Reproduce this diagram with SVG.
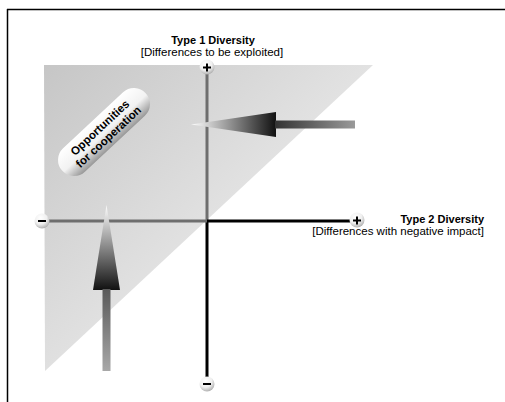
<svg xmlns="http://www.w3.org/2000/svg" width="505" height="402" viewBox="0 0 505 402">
<style>
.t{font-family:"Liberation Sans",Arial,sans-serif;fill:#000}
.b{font-weight:bold;font-size:11px}
.pb{font-weight:bold;font-size:11.5px}
.s{font-size:11.5px}
.sym{stroke:#000;stroke-width:2;fill:none}
</style>
<defs>
<linearGradient id="tri" x1="44" y1="65" x2="210" y2="230" gradientUnits="userSpaceOnUse">
<stop offset="0" stop-color="#c6c6c6"/><stop offset="1" stop-color="#e2e2e2"/>
</linearGradient>
<radialGradient id="ball" cx="0.4" cy="0.3" r="0.75">
<stop offset="0" stop-color="#ffffff"/><stop offset="0.55" stop-color="#f0f0f0"/><stop offset="1" stop-color="#a8a8a8"/>
</radialGradient>
<linearGradient id="pill" x1="0" y1="0" x2="0" y2="1">
<stop offset="0" stop-color="#ffffff"/><stop offset="0.55" stop-color="#f2f2f2"/><stop offset="1" stop-color="#989898"/>
</linearGradient>
<linearGradient id="rhead" x1="191" y1="0" x2="276" y2="0" gradientUnits="userSpaceOnUse">
<stop offset="0" stop-color="#ffffff"/><stop offset="1" stop-color="#111111"/>
</linearGradient>
<linearGradient id="rshaft" x1="275" y1="0" x2="355" y2="0" gradientUnits="userSpaceOnUse">
<stop offset="0" stop-color="#333333"/><stop offset="1" stop-color="#9a9a9a"/>
</linearGradient>
<linearGradient id="uhead" x1="0" y1="205" x2="0" y2="290" gradientUnits="userSpaceOnUse">
<stop offset="0" stop-color="#ffffff"/><stop offset="1" stop-color="#111111"/>
</linearGradient>
<linearGradient id="ushaft" x1="0" y1="290" x2="0" y2="371" gradientUnits="userSpaceOnUse">
<stop offset="0" stop-color="#5a5a5a"/><stop offset="1" stop-color="#a8a8a8"/>
</linearGradient>
</defs>
<rect x="0" y="0" width="505" height="402" fill="#ffffff"/>
<g id="frame">
<line x1="7.5" y1="9" x2="7.5" y2="402" stroke="#000" stroke-width="1.5"/>
<line x1="7" y1="9.5" x2="505" y2="9.5" stroke="#000" stroke-width="1.5"/>
</g>
<g id="region">
<polygon points="44,65 373,65 45,371" fill="url(#tri)"/>
</g>
<g id="connectors">
<line x1="207" y1="70" x2="207" y2="221" stroke="#6e6e6e" stroke-width="3"/>
<line x1="207" y1="221" x2="207" y2="380" stroke="#000" stroke-width="3"/>
<line x1="46" y1="221" x2="207" y2="221" stroke="#6e6e6e" stroke-width="3"/>
<line x1="207" y1="221" x2="353" y2="221" stroke="#000" stroke-width="3"/>
</g>
<g id="arrow-right">
<polygon points="191,124.5 276,112 276,137" fill="url(#rhead)"/>
<rect x="275" y="120.5" width="80" height="8" fill="url(#rshaft)"/>
</g>
<g id="arrow-up">
<polygon points="106.5,205 93,290 120,290" fill="url(#uhead)"/>
<rect x="102.5" y="289" width="8" height="82" fill="url(#ushaft)"/>
</g>
<g id="pole-top">
<circle cx="207" cy="67" r="7.5" fill="url(#ball)"/>
<path class="sym" d="M203,67.5 H211 M207,63.5 V71.5"/>
</g>
<g id="pole-left">
<circle cx="42" cy="221" r="7.5" fill="url(#ball)"/>
<path class="sym" d="M38,221 H46"/>
</g>
<g id="pole-right">
<circle cx="357" cy="220" r="7.5" fill="url(#ball)"/>
<path class="sym" d="M353,220.5 H361 M357,216.5 V224.5"/>
</g>
<g id="pole-bottom">
<circle cx="207" cy="384" r="7.5" fill="url(#ball)"/>
<path class="sym" d="M203,384 H211"/>
</g>
<g id="pill-node" transform="translate(104,132) rotate(-43)">
<rect x="-57" y="-16" width="114" height="32" rx="16" fill="url(#pill)"/>
<text class="t pb" x="0" y="-2" text-anchor="middle">Opportunities</text>
<text class="t pb" x="0" y="10.5" text-anchor="middle">for cooperation</text>
</g>
<g id="label-type1">
<text class="t b" x="213" y="44" text-anchor="middle">Type 1 Diversity</text>
<text class="t s" x="212" y="55.5" text-anchor="middle">[Differences to be exploited]</text>
</g>
<g id="label-type2">
<text class="t b" x="484" y="223" text-anchor="end">Type 2 Diversity</text>
<text class="t s" x="484" y="235" text-anchor="end">[Differences with negative impact]</text>
</g>
</svg>
